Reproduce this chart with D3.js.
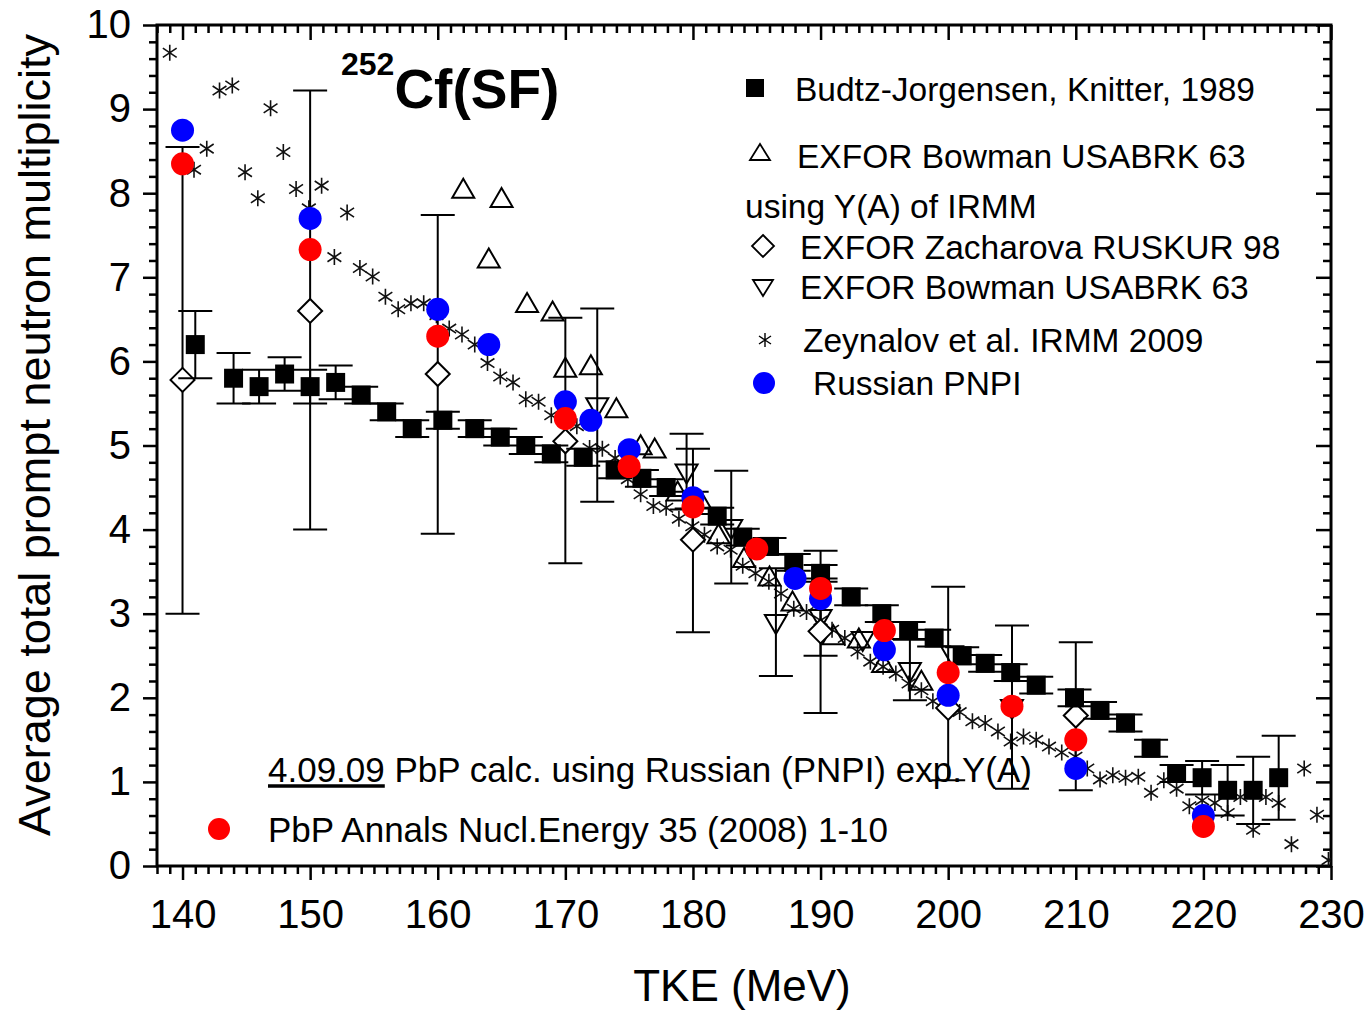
<!DOCTYPE html>
<html>
<head>
<meta charset="utf-8">
<script src="https://cdn.jsdelivr.net/npm/d3@7"></script>
<style>
body { margin: 0; background: #fff; }
text { font-family: "Liberation Sans", Arial, sans-serif; fill: #000; }
</style>
</head>
<body>
<svg class="canvas"></svg>
<script>
// Budtz-Jorgensen, Knitter 1989 (filled squares, +/- err)
var bjTke = [141, 144, 146, 148, 150, 152, 154, 156, 158, 160.4, 162.9, 164.9, 166.9, 168.9, 171.4, 173.9, 176, 177.9, 179.9, 181.9,
	183.9, 186, 187.9, 190, 192.4, 194.8, 196.9, 198.9, 201.1, 202.9, 204.9, 206.9, 209.9, 211.9, 213.9, 215.9, 217.9, 219.9, 221.9, 223.9, 225.9];
var bjNu = [6.2, 5.8, 5.7, 5.85, 5.7, 5.75, 5.6, 5.4, 5.2, 5.3, 5.2, 5.1, 5.0, 4.9, 4.86, 4.71, 4.61, 4.5, 4.35, 4.16,
	3.91, 3.8, 3.61, 3.48, 3.2, 3.0, 2.8, 2.71, 2.5, 2.41, 2.3, 2.15, 2.0, 1.85, 1.7, 1.4, 1.1, 1.05, 0.9, 0.9, 1.05];
var bjErr = [0.4, 0.3, 0.2, 0.2, 0.2, 0.2, 0.1, 0.1, 0.1, 0.1, 0.1, 0.1, 0.1, 0.1, 0.1, 0.1, 0.1, 0.1, 0.1, 0.1,
	0.1, 0.1, 0.1, 0.1, 0.1, 0.1, 0.1, 0.1, 0.1, 0.1, 0.1, 0.1, 0.1, 0.1, 0.1, 0.1, 0.1, 0.2, 0.3, 0.4, 0.5];

// EXFOR Bowman USABRK 63 (open up-triangles)
var bowTke = [162, 164, 165, 167, 169, 170, 172, 174, 175.9, 177, 178.8, 180.8, 182, 184, 186, 187.8, 191, 193, 194.9, 197.9];
var bowNu = [8.03, 7.2, 7.92, 6.67, 6.57, 5.9, 5.93, 5.42, 4.98, 4.94, 4.43, 4.27, 3.92, 3.64, 3.42, 3.12, 2.72, 2.68, 2.39, 2.18];

// EXFOR Zacharova RUSKUR 98 (open diamonds, error bars)
var zacTke = [140, 150, 160, 170, 180, 190, 200, 210];
var zacNu = [5.78, 6.6, 5.85, 5.05, 3.88, 2.79, 1.88, 1.79];
var zacHi = [8.55, 9.22, 7.74, 6.52, 4.96, 3.75, 3.32, 2.66];
var zacLo = [3.0, 4.0, 3.95, 3.6, 2.78, 1.82, 1.02, 0.9];

// EXFOR Bowman USABRK 63 using Y(A) of IRMM (open down-triangles)
var bowYaTke = [172.5, 179.5, 183, 186.5, 190, 193.3, 197, 200.3, 205];
var bowYaNu = [5.48, 4.69, 4.03, 2.9, 2.96, 2.7, 2.33, 2.53, 1.89];
var bowYaErr = [1.15, 0.45, 0.67, 0.64, 0.46, 0, 0.36, 0, 0.97];

// Zeynalov et al. IRMM 2009 (asterisks)
var zeyTke = [139, 140.9, 141.9, 142.9, 143.9, 144.9, 145.9, 146.9, 147.9, 148.9, 149.9, 150.9, 151.9, 152.9, 153.9, 154.9, 155.9,
	156.9, 157.9, 158.9, 159.9, 160.9, 161.9, 162.9, 163.9, 164.9, 165.9, 166.9, 167.9, 168.9, 169.9, 170.9, 171.9, 172.9, 173.9,
	174.9, 175.9, 176.9, 177.9, 178.9, 179.95, 180.9, 181.9, 182.95, 183.9, 184.9, 185.95, 186.9, 187.9, 188.9, 190, 190.9, 191.9,
	192.9, 193.9, 194.9, 195.9, 196.9, 197.9, 198.8, 199.9, 200.9, 201.9, 202.9, 203.9, 204.9, 205.9, 206.9, 207.9, 208.9, 209.97,
	210.9, 211.9, 212.9, 213.9, 214.9, 215.9, 216.9, 217.9, 218.9, 219.9, 220.9, 221.9, 222.9, 223.9, 224.9, 225.9, 226.9, 227.9,
	228.9, 229.8];
var zeyNu = [9.67, 8.28, 8.53, 9.22, 9.28, 8.25, 7.94, 9.01, 8.49, 8.05, 7.82, 8.09, 7.24, 7.77, 7.11, 7.01, 6.77,
	6.62, 6.69, 6.69, 6.55, 6.39, 6.32, 6.2, 5.98, 5.82, 5.75, 5.55, 5.52, 5.36, 5.3, 5.23, 4.97, 4.96, 4.85,
	4.6, 4.42, 4.28, 4.26, 4.13, 4.04, 3.94, 3.8, 3.76, 3.57, 3.48, 3.38, 3.24, 3.06, 3.02, 2.92, 2.81, 2.71,
	2.55, 2.43, 2.37, 2.29, 2.17, 2.09, 1.96, 1.9, 1.83, 1.72, 1.7, 1.6, 1.48, 1.54, 1.5, 1.42, 1.35, 1.3,
	1.16, 1.03, 1.08, 1.05, 1.06, 0.87, 1.02, 0.92, 0.71, 0.78, 0.75, 0.63, 0.82, 0.43, 0.82, 0.75, 0.26, 1.16,
	0.61, 0.07];

// Russian PNPI (blue) and PbP calculation (red)
var pnpiTke = [140, 150, 160, 164, 170, 172, 175, 180, 188, 190, 195, 200, 210, 220];
var pnpiNu = [8.75, 7.7, 6.62, 6.2, 5.52, 5.3, 4.95, 4.38, 3.42, 3.18, 2.57, 2.03, 1.16, 0.6];
var pbpTke = [140, 150, 160, 170, 175, 180, 185, 190, 195, 200, 205, 210, 220];
var pbpNu = [8.35, 7.33, 6.3, 5.32, 4.75, 4.27, 3.77, 3.3, 2.8, 2.3, 1.9, 1.5, 0.47];

var xTicks = [140, 150, 160, 170, 180, 190, 200, 210, 220, 230];
var yTicks = [0, 1, 2, 3, 4, 5, 6, 7, 8, 9, 10];

var width = 1369,
	height = 1011;
var BLUE = "#0000ff", RED = "#ff0000";
var CAP = 17;

var SYM = {
	square: "M-9.5,-9.5h19v19h-19z",
	up: "M0,-12L11,7L-11,7Z",
	down: "M0,12L11,-7L-11,-7Z",
	diamond: "M0,-12L12,0L0,12L-12,0Z",
	star: "M0,-8V8M-6.9,-4.6L6.9,4.6M-6.9,4.6L6.9,-4.6"
};

var canvas, x, y;

window.onload = function() {
	canvas = d3.select(".canvas").attr("width", width).attr("height", height);
	x = d3.scaleLinear().domain([138, 230]).range([157, 1331]);
	y = d3.scaleLinear().domain([0, 10]).range([866, 25]);
	drawAxes();
	drawData();
	drawLegend();
};

function pts(xs, ys) {
	return xs.map(function(d, i) { return { x: d, y: ys[i] }; });
}

function drawErr(g, data) {
	var e = g.append("g").attr("stroke", "#000").attr("stroke-width", 2)
		.selectAll("g").data(data.filter(function(d) { return d.hi != d.lo; }))
		.enter().append("g");
	e.append("line")
		.attr("x1", function(d) { return x(d.x); }).attr("x2", function(d) { return x(d.x); })
		.attr("y1", function(d) { return y(d.hi); }).attr("y2", function(d) { return y(d.lo); });
	e.append("line")
		.attr("x1", function(d) { return x(d.x) - CAP; }).attr("x2", function(d) { return x(d.x) + CAP; })
		.attr("y1", function(d) { return y(d.hi); }).attr("y2", function(d) { return y(d.hi); });
	e.append("line")
		.attr("x1", function(d) { return x(d.x) - CAP; }).attr("x2", function(d) { return x(d.x) + CAP; })
		.attr("y1", function(d) { return y(d.lo); }).attr("y2", function(d) { return y(d.lo); });
}

function drawSym(g, data, path, fill, stroke, sw) {
	g.append("g").selectAll("path").data(data).enter().append("path")
		.attr("d", path)
		.attr("transform", function(d) { return "translate(" + x(d.x) + "," + y(d.y) + ")"; })
		.attr("fill", fill)
		.attr("stroke", stroke)
		.attr("stroke-width", sw);
}

function drawDots(g, data, color) {
	g.append("g").selectAll("circle").data(data).enter().append("circle")
		.attr("cx", function(d) { return x(d.x); })
		.attr("cy", function(d) { return y(d.y); })
		.attr("r", 11.5)
		.attr("fill", color);
}

function drawAxes() {
	var xMinor = d3.range(138, 231, 1).filter(function(v) { return v % 10 != 0; });
	var yMinor = d3.range(0, 10.01, 0.2).filter(function(v) { return Math.abs(v - Math.round(v)) > 0.01; });
	var ax = canvas.append("g").attr("class", "axes");

	function put(axis, tx, ty, labels) {
		var g = ax.append("g").attr("transform", "translate(" + tx + "," + ty + ")").call(axis);
		g.select(".domain").remove();
		g.selectAll("line").attr("stroke", "#000").attr("stroke-width", 2.5);
		if (!labels) g.selectAll("text").remove();
		else g.selectAll("text").style("font-size", "40px").attr("fill", "#000");
		return g;
	}

	put(d3.axisBottom(x).tickValues(xTicks).tickSize(14).tickPadding(20).tickFormat(d3.format("d")), 0, y(0), true);
	put(d3.axisBottom(x).tickValues(xMinor).tickSize(8), 0, y(0), false);
	put(d3.axisTop(x).tickValues(xTicks).tickSize(-15), 0, y(10), false);
	put(d3.axisTop(x).tickValues(xMinor).tickSize(-8), 0, y(10), false);
	put(d3.axisLeft(y).tickValues(yTicks).tickSize(14).tickPadding(12).tickFormat(d3.format("d")), x(138), 0, true);
	put(d3.axisLeft(y).tickValues(yMinor).tickSize(8), x(138), 0, false);
	put(d3.axisRight(y).tickValues(yTicks).tickSize(-15), x(230), 0, false);
	put(d3.axisRight(y).tickValues(yMinor).tickSize(-8), x(230), 0, false);

	ax.append("rect")
		.attr("x", x(138)).attr("y", y(10))
		.attr("width", x(230) - x(138)).attr("height", y(0) - y(10))
		.attr("fill", "none").attr("stroke", "#000").attr("stroke-width", 3);

	ax.append("text")
		.attr("x", (x(138) + x(230)) / 2 - 2).attr("y", 1001)
		.attr("text-anchor", "middle")
		.style("font-size", "44px")
		.text("TKE (MeV)");

	ax.append("text")
		.attr("transform", "translate(50," + 435 + ") rotate(-90)")
		.attr("text-anchor", "middle")
		.style("font-size", "45px")
		.text("Average total prompt neutron multiplicity");
}

function drawData() {
	canvas.append("clipPath").attr("id", "plotclip")
		.append("rect").attr("x", x(138)).attr("y", y(10))
		.attr("width", x(230) - x(138)).attr("height", y(0) - y(10));
	var g = canvas.append("g").attr("clip-path", "url(#plotclip)");

	drawSym(g, pts(zeyTke, zeyNu), SYM.star, "none", "#111", 1.6);
	drawSym(g, pts(bowTke, bowNu), SYM.up, "none", "#000", 2);

	var bya = bowYaTke.map(function(d, i) {
		return { x: d, hi: bowYaNu[i] + bowYaErr[i], lo: bowYaNu[i] - bowYaErr[i] };
	});
	drawErr(g, bya);
	drawSym(g, pts(bowYaTke, bowYaNu), SYM.down, "none", "#000", 2);

	var zac = zacTke.map(function(d, i) { return { x: d, hi: zacHi[i], lo: zacLo[i] }; });
	drawErr(g, zac);
	drawSym(g, pts(zacTke, zacNu), SYM.diamond, "#fff", "#000", 2);

	var bj = bjTke.map(function(d, i) { return { x: d, hi: bjNu[i] + bjErr[i], lo: bjNu[i] - bjErr[i] }; });
	drawErr(g, bj);
	drawSym(g, pts(bjTke, bjNu), SYM.square, "#000", "none", 0);

	drawDots(g, pts(pnpiTke, pnpiNu), BLUE);
	drawDots(g, pts(pbpTke, pbpNu), RED);
}

function drawLegend() {
	var lg = canvas.append("g").attr("class", "legend");

	var title = lg.append("text").attr("x", 341).attr("y", 108).style("font-weight", "bold");
	title.append("tspan").attr("dy", -33).style("font-size", "32px").text("252");
	title.append("tspan").attr("dy", 33).style("font-size", "55px").text("Cf(SF)");

	var items = [
		{ sym: "square", sx: 755, sy: 88, tx: 795, ty: 89, fs: 33.5, label: "Budtz-Jorgensen, Knitter, 1989" },
		{ sym: "up", sx: 760, sy: 153, tx: 797, ty: 156, fs: 33.5, label: "EXFOR Bowman USABRK 63" },
		{ sym: null, tx: 745, ty: 206, fs: 33.5, label: "using Y(A) of IRMM" },
		{ sym: "diamond", sx: 763, sy: 246, tx: 800, ty: 247, fs: 33.5, label: "EXFOR Zacharova RUSKUR 98" },
		{ sym: "down", sx: 763, sy: 287, tx: 800, ty: 287, fs: 33.5, label: "EXFOR Bowman USABRK 63" },
		{ sym: "star", sx: 765, sy: 340, tx: 803, ty: 340, fs: 33.5, label: "Zeynalov et al. IRMM 2009" },
		{ sym: "blue", sx: 764, sy: 383, tx: 813, ty: 383, fs: 33.5, label: "Russian PNPI" },
		{ sym: "red", sx: 219, sy: 829, tx: 268, ty: 830, fs: 35, label: "PbP Annals Nucl.Energy 35 (2008) 1-10" }
	];

	var it = lg.selectAll("g.item").data(items).enter().append("g").attr("class", "item");
	it.each(function(d) {
		var s = d3.select(this);
		if (d.sym == "blue" || d.sym == "red") {
			s.append("circle").attr("cx", d.sx).attr("cy", d.sy).attr("r", 11)
				.attr("fill", d.sym == "blue" ? BLUE : RED);
		} else if (d.sym) {
			var path = d.sym == "up" ? "M0,-9L10,7L-10,7Z" : d.sym == "down" ? "M0,9L10,-7L-10,-7Z"
				: d.sym == "diamond" ? "M0,-11L11,0L0,11L-11,0Z"
				: d.sym == "star" ? "M0,-7V7M-6,-4L6,4M-6,4L6,-4" : "M-9,-9h18v18h-18z";
			s.append("path").attr("d", path)
				.attr("transform", "translate(" + d.sx + "," + d.sy + ")")
				.attr("fill", d.sym == "square" ? "#000" : "none")
				.attr("stroke", d.sym == "square" ? "none" : "#000")
				.attr("stroke-width", d.sym == "star" ? 1.4 : 1.8);
		}
		s.append("text").attr("x", d.tx).attr("y", d.ty).attr("dy", ".35em")
			.style("font-size", d.fs + "px").text(d.label);
	});

	var note = lg.append("text").attr("x", 268).attr("y", 770).attr("dy", ".35em").style("font-size", "35px");
	note.append("tspan").style("text-decoration", "underline").text("4.09.09");
	note.append("tspan").text(" PbP calc. using Russian (PNPI) exp.Y(A)");
}
</script>
</body>
</html>
